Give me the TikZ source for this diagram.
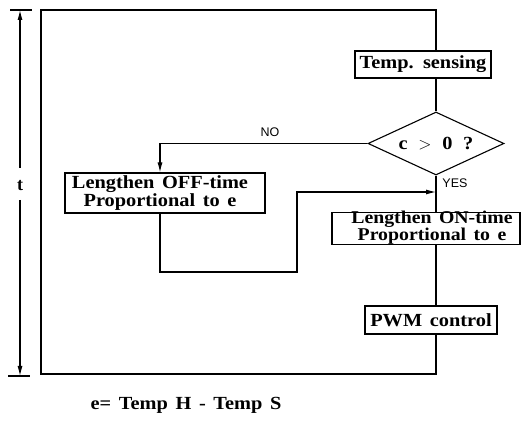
\documentclass[tikz,border=0pt]{standalone}
\usepackage{fontspec}
\setmainfont{Liberation Serif}
\setsansfont{Liberation Sans}
\newfontfamily\boxfont[FakeStretch=1.1,WordSpace=1.5]{Liberation Serif}
\usetikzlibrary{shapes.geometric,arrows.meta}
\begin{document}
\begin{tikzpicture}[x=1pt,y=-1pt,
  line width=1.1pt,
  >={Latex[length=10pt,width=5pt]},
  txt/.style={font=\boxfont\fontsize{18.5}{13.5}\selectfont\bfseries},
  boxnode/.style={draw,rectangle,inner sep=0pt,txt,align=center},
  lbl/.style={font=\fontsize{12.5}{13}\selectfont\sffamily,inner sep=0pt}]
\useasboundingbox (0,0) rectangle (522,427);
% nodes
\node[boxnode,minimum width=136,minimum height=27] (sense) at (423,64.5) {Temp. sensing};
\node[draw,diamond,inner sep=0pt,minimum width=136,minimum height=63] (dec) at (436,143.5) {};
\node[txt,inner sep=0pt] (dectxt) at (dec.center) {c \,$>$\, 0 \,?};
\node[boxnode,minimum width=200,minimum height=40] (off) at (165,193) {};
\node[txt,inner sep=0pt,align=center] (offtxt) at (160,193) {Lengthen OFF-time\\Proportional to e};
\node[boxnode,minimum width=188,minimum height=32] (on) at (426,228.5) {};
\node[txt,inner sep=0pt,align=center,font=\boxfont\fontsize{18}{11}\selectfont\bfseries] (ontxt) at (432,227.5) {Lengthen ON-time\\Proportional to e};
\node[boxnode,minimum width=132,minimum height=28] (pwm) at (431,320) {PWM control};
\node[lbl] (no) at (270,132) {NO};
\node[lbl] (yes) at (455,183) {YES};
\node[font=\fontsize{18}{18}\selectfont\bfseries,inner sep=0pt] (t) at (20,186) {t};
\node[txt,inner sep=0pt] (eq) at (186,405) {e= Temp H - Temp S};
% coordinates
\coordinate (sp) at (436,0);
\coordinate (tl) at (41,10);
\coordinate (bl) at (41,374);
\coordinate (br) at (436,374);
\coordinate (tr) at (436,10);
\coordinate (offx) at (160,0);
\coordinate (j1) at (160,272);
\coordinate (j2) at (297,272);
\coordinate (j3) at (297,192);
\coordinate (ttop) at (20,10);
\coordinate (tbot) at (20,376);
\coordinate (t1) at (20,168);
\coordinate (t2) at (20,200);
% connectors
\draw (pwm.south -| sp) -- (br) -- (bl) -- (tl) -- (tr) -- (sense.north -| sp);
\draw (sense.south -| sp) -- (dec.north);
\draw[->] (dec.west) -- (dec.west -| offx) -- (off.north -| offx);
\draw (dec.south) -- (on.north -| dec.south);
\draw[->] (off.south -| offx) -- (j1) -- (j2) -- (j3) -- (j3 -| sp);
\draw (on.south -| sp) -- (pwm.north -| sp);
% time axis
\draw[->] (t1) -- (ttop);
\draw[->] (t2) -- (tbot);
\draw (10,10) -- (32,10);
\draw (8,376) -- (30,376);
\end{tikzpicture}
\end{document}
